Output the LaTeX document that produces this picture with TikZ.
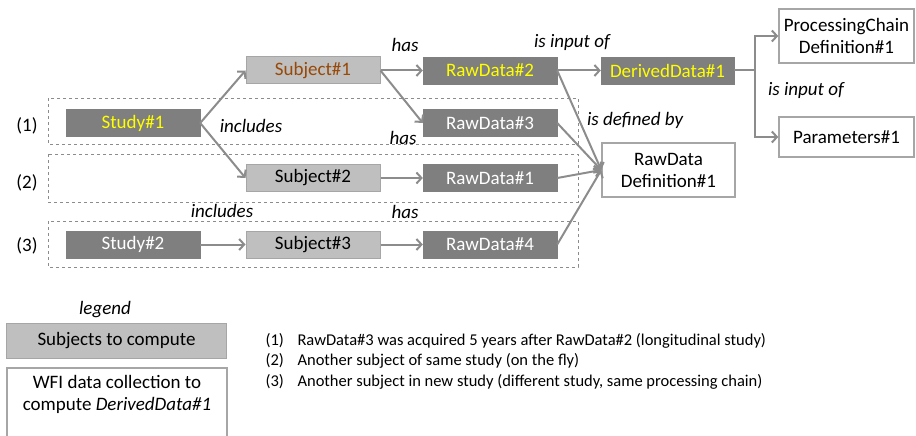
\documentclass[tikz,border=0pt]{standalone}
\usepackage{fontspec}
\setmainfont{Carlito}
\usetikzlibrary{arrows.meta}
\definecolor{darkbox}{RGB}{127,127,127}
\definecolor{lightbox}{RGB}{191,191,191}
\definecolor{edgegray}{RGB}{166,166,166}
\definecolor{linkgray}{RGB}{140,140,140}
\definecolor{hiyellow}{RGB}{255,255,0}
\definecolor{subbrown}{RGB}{152,72,7}

\begin{document}
\begin{tikzpicture}[x=1pt,y=-1pt,
  font=\fontsize{19}{22}\selectfont,
  dark/.style={fill=darkbox,draw=darkbox,text=white,minimum width=134pt,minimum height=27pt,inner sep=0pt},
  light/.style={fill=lightbox,draw=edgegray,line width=1pt,minimum width=134pt,minimum height=27pt,inner sep=0pt},
  plain/.style={fill=white,draw=edgegray,line width=1.5pt,align=center,inner sep=0pt},
  link/.style={draw=linkgray,line width=2pt,-{Straight Barb[length=5pt,width=11pt]}},
  group/.style={draw=linkgray,dashed,line width=0.8pt},
  rel/.style={font=\fontsize{19}{22}\selectfont\itshape},
  note/.style={anchor=west,font=\fontsize{16.5}{20}\selectfont}]
\useasboundingbox (0,0) rectangle (916,436);
\clip (0,0) rectangle (916,436);
\draw[group] (48,98) rectangle (578,144);
\draw[group] (48,154) rectangle (578,202);
\draw[group] (48,221) rectangle (578,267);
\node (c1) at (27,126) {(1)};
\node (c2) at (27,183) {(2)};
\node (c3) at (27,246) {(3)};
\node[dark,text=hiyellow] (study1) at (133,123) {Study\#1};
\node[dark] (study2) at (133,244.5) {Study\#2};
\node[light,text=subbrown] (sub1) at (313,70.5) {Subject\#1};
\node[light] (sub2) at (313,178) {Subject\#2};
\node[light] (sub3) at (313,244.5) {Subject\#3};
\node[dark,text=hiyellow] (raw2) at (490,70.5) {RawData\#2};
\node[dark] (raw3) at (490,123) {RawData\#3};
\node[dark] (raw1) at (490,178) {RawData\#1};
\node[dark] (raw4) at (490,244.5) {RawData\#4};
\node[dark,text=hiyellow,minimum width=133pt] (derived) at (667.5,70.5) {DerivedData\#1};
\node[plain,minimum width=133pt,minimum height=54pt] (rawdef) at (668.5,170) {RawData\\Definition\#1};
\node[plain,minimum width=135pt,minimum height=54pt] (chain) at (846.5,36) {ProcessingChain\\Definition\#1};
\node[plain,minimum width=135pt,minimum height=40pt] (params) at (846.5,137) {Parameters\#1};
\draw[link] (study1.east) -- (sub1.west);
\draw[link] (study1.east) -- (sub2.west);
\draw[link] (study2) -- (sub3);
\draw[link] (sub1.east) -- (raw2.west);
\draw[link] (sub1.east) -- (raw3.west);
\draw[link] (sub2) -- (raw1);
\draw[link] (sub3) -- (raw4);
\draw[link] (raw2) -- (derived);
\draw[link] (raw2.east) -- (rawdef.west);
\draw[link] (raw3.east) -- (rawdef.west);
\draw[link] (raw1.east) -- (rawdef.west);
\draw[link] (raw4.east) -- (rawdef.west);
\draw[link] (derived.east) -- ++(21,0) |- (chain.west);
\draw[link] (derived.east) -- ++(21,0) |- (params.west);
\node[rel] (inc1) at (251,126) {includes};
\node[rel] (inc2) at (222,211) {includes};
\node[rel] (has1) at (405,45) {has};
\node[rel] (has2) at (403,138) {has};
\node[rel] (has3) at (405,212) {has};
\node[rel] (inp1) at (572,42) {is input of};
\node[rel] (def1) at (635,120) {is defined by};
\node[rel] (inp2) at (806,90) {is input of};
\node[rel] (legend) at (105,310) {legend};
\node[light,minimum width=220pt,minimum height=35pt] (todo) at (116.5,340.5) {Subjects to compute};
\draw[plain] (7,368) rectangle (227,450);
\node[align=center] (wfi) at (117,394) {WFI data collection to\\compute \textit{DerivedData\#1}};
\node[note] (n1) at (262,341) {(1)};
\node[note] (n2) at (262,361) {(2)};
\node[note] (n3) at (262,382) {(3)};
\node[note] (t1) at (294,341) {RawData\#3 was acquired 5 years after RawData\#2 (longitudinal study)};
\node[note] (t2) at (294,361) {Another subject of same study (on the fly)};
\node[note] (t3) at (294,382) {Another subject in new study (different study, same processing chain)};
\end{tikzpicture}
\end{document}
